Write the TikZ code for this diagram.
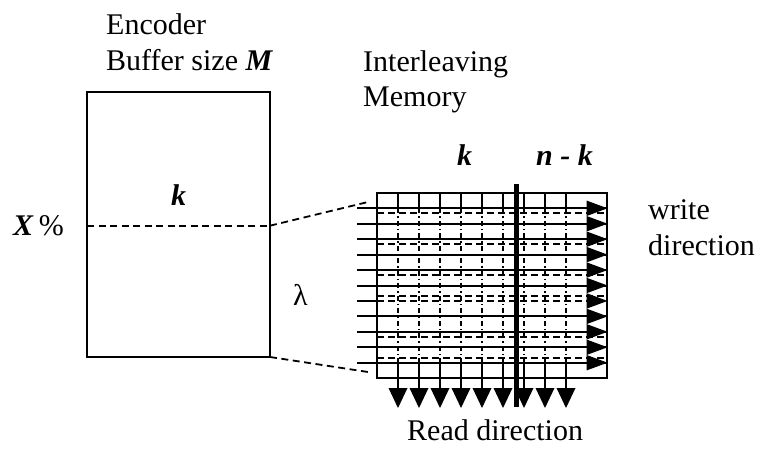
\documentclass[tikz,border=0pt]{standalone}
\usepackage{fontspec}
\setmainfont{Liberation Serif}
\begin{document}
\begin{tikzpicture}[x=1pt,y=-1pt,
  lbl/.style={anchor=base west, inner sep=0pt, font=\fontsize{30}{36}\selectfont},
  gridline/.style={line width=2pt},
  hdash/.style={line width=2pt, dash pattern=on 7pt off 4pt},
  vdash/.style={line width=1.8pt, dash pattern=on 5pt off 3pt on 1.5pt off 3pt},
  conn/.style={line width=1.8pt, dash pattern=on 7pt off 4.5pt},
  tri/.style={fill=black, draw=none}]
\useasboundingbox (0,0) rectangle (762,454);

% encoder buffer
\coordinate (bTL) at (87,91.7);
\coordinate (bBR) at (270,357);
\coordinate (xL) at (87,225.7);
\coordinate (xR) at (270,225.7);
\draw[gridline] (bTL) rectangle (bBR);
\draw[conn] (xL) -- (xR);

% connectors to memory
\coordinate (gA) at (368,202);
\coordinate (gB) at (368,372);
\draw[conn] (xR) -- (gA);
\draw[conn] (bBR) -- (gB);

% memory grid
\coordinate (gTL) at (377,192.7);
\coordinate (gBR) at (606.7,378.2);
% vertical lines
\foreach \j in {1,...,9} {
  \pgfmathsetmacro{\xx}{377+21*\j}
  \draw[gridline] (\xx,192.7) -- (\xx,208.3);
  \draw[vdash] (\xx,208.3) -- (\xx,362.7);
  \draw[gridline] (\xx,362.7) -- (\xx,390);
}
% solid horizontal lines
\foreach \i in {1,...,11} {
  \pgfmathsetmacro{\yy}{208.3+15.44*(\i-1)}
  \ifnum\i=7
    \draw[gridline] (357,\yy) -- (377,\yy);
    \draw[hdash] (377,\yy) -- (606.7,\yy);
  \else
    \draw[gridline] (357,\yy) -- (606.7,\yy);
  \fi
}
% dashed horizontal lines
\foreach \yy in {213.3,244.3,275,295.7,336.7,357.7} {
  \draw[hdash] (377,\yy) -- (606.7,\yy);
}
\draw[gridline] (gTL) rectangle (gBR);

% thick separator
\coordinate (sT) at (516.7,184);
\coordinate (sB) at (516.7,407);
\draw[line width=4.5pt] (sT) -- (sB);

% write direction arrows
\foreach \i in {1,...,11} {
  \pgfmathsetmacro{\yy}{208.3+15.44*(\i-1)}
  \fill[tri] (586.7,\yy-7.7) -- (607.5,\yy) -- (586.7,\yy+7.7) -- cycle;
}
% read direction arrows
\foreach \j in {1,...,9} {
  \pgfmathsetmacro{\xx}{377+21*\j}
  \fill[tri] (\xx-9.5,388) -- (\xx+9.5,388) -- (\xx,408) -- cycle;
}

% labels
\node[lbl] (enc) at (106,35) {Encoder};
\node[lbl] (buf) at (106,71) {Buffer size \textbf{\textit{M}}};
\node[lbl] (inter) at (363,72) {Interleaving};
\node[lbl] (mem) at (363,107) {Memory};
\node[lbl] (kgrid) at (457,166) {\textbf{\textit{k}}};
\node[lbl] (nk) at (536,166) {\textbf{\textit{n - k}}};
\node[lbl] (kbox) at (171,206) {\textbf{\textit{k}}};
\node[lbl] (xp) at (13,236) {\textbf{\textit{X}}\,\%};
\node[lbl] (lam) at (293,305) {λ};
\node[lbl] (wr) at (648,220) {write};
\node[lbl] (dir) at (648,255) {direction};
\node[lbl] (rd) at (407,440) {Read direction};
\end{tikzpicture}
\end{document}
